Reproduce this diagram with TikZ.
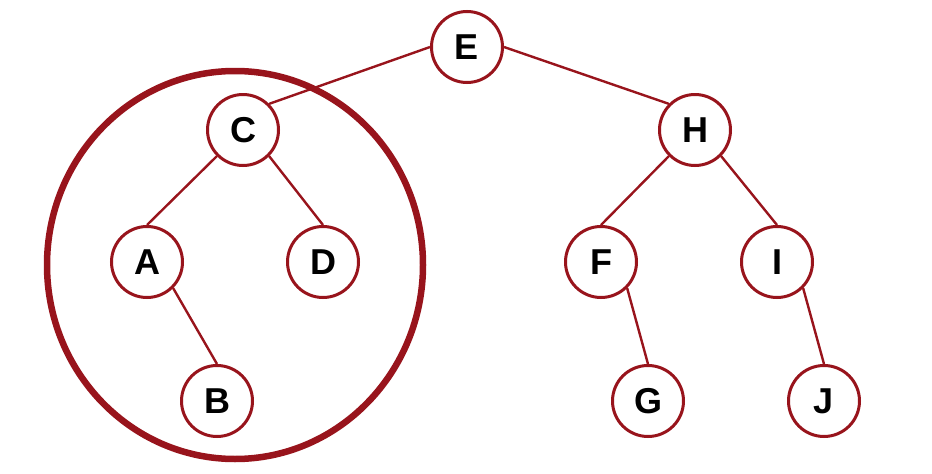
\documentclass[tikz,border=0pt]{standalone}
\usepackage{fontspec}
\setmainfont{Liberation Sans}
\definecolor{treered}{RGB}{152,20,28}
\begin{document}
\begin{tikzpicture}[x=1pt,y=-1pt,
  tnode/.style={circle,draw=treered,line width=3pt,fill=white,minimum size=71pt,inner sep=0pt,font=\fontsize{36}{36}\selectfont\bfseries},
  tedge/.style={draw=treered,line width=2.4pt}]
\useasboundingbox (0,0) rectangle (932,474);
\draw[treered,line width=6.5pt] (235,265) ellipse [x radius=188, y radius=194];
\node[tnode] (E) at (467,47) {E};
\node[tnode] (C) at (243,130) {C};
\node[tnode] (H) at (695,130) {H};
\node[tnode] (A) at (147,262) {A};
\node[tnode] (D) at (323,262) {D};
\node[tnode] (F) at (601,262) {F};
\node[tnode] (I) at (777,262) {I};
\node[tnode] (B) at (217,401) {B};
\node[tnode] (G) at (648,401) {G};
\node[tnode] (J) at (824,401) {J};
\draw[tedge] (E.west) -- (C.north east);
\draw[tedge] (E.east) -- (H.north west);
\draw[tedge] (C.south west) -- (A.north);
\draw[tedge] (C.south east) -- (D.north);
\draw[tedge] (A.south east) -- (B.north);
\draw[tedge] (H.south west) -- (F.north);
\draw[tedge] (H.south east) -- (I.north);
\draw[tedge] (F.south east) -- (G.north);
\draw[tedge] (I.south east) -- (J.north);
\end{tikzpicture}
\end{document}
